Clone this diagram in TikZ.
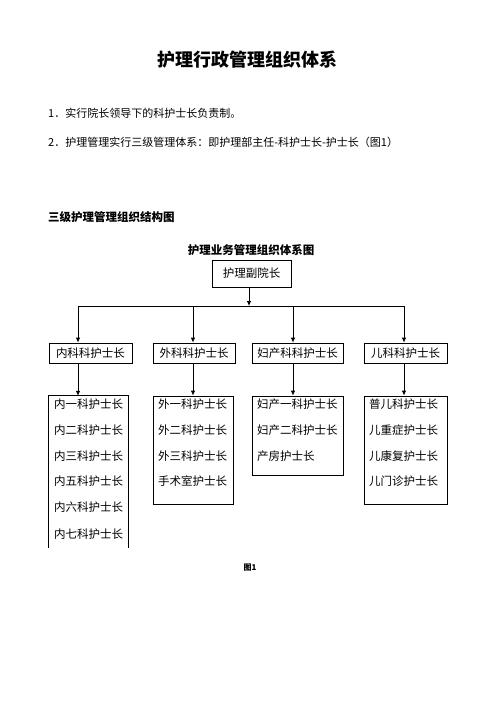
\documentclass[tikz,border=0pt]{standalone}
\usepackage{fontspec}
\setmainfont{Noto Sans CJK SC}
\usetikzlibrary{arrows.meta}
\begin{document}
\begin{tikzpicture}[x=1pt,y=-1pt,
  txt/.style={inner sep=0pt, font=\fontsize{11}{13}\selectfont},
  boxtxt/.style={inner sep=0pt, font=\fontsize{11.5}{13}\selectfont, anchor=west},
  box/.style={draw, line width=0.8pt, inner sep=0pt, font=\fontsize{11.5}{13}\selectfont},
  ln/.style={line width=0.8pt},
  conn/.style={line width=0.8pt, -{Latex[length=5pt,width=4.5pt]}}]
\useasboundingbox[fill=white] (0,0) rectangle (496,702);
% texts
\node[inner sep=0pt, font=\fontsize{18}{20}\selectfont\bfseries] (title) at (247,60) {护理行政管理组织体系};
\node[txt, anchor=west] (l1) at (48,113) {1．实行院长领导下的科护士长负责制。};
\node[txt, anchor=west] (l2) at (48,142) {2．护理管理实行三级管理体系：即护理部主任-科护士长-护士长（图1）};
\node[inner sep=0pt, anchor=west, font=\fontsize{11.5}{13}\selectfont\bfseries] (h1) at (48,217) {三级护理管理组织结构图};
\node[inner sep=0pt, font=\fontsize{11.5}{13}\selectfont\bfseries] (h2) at (251,250) {护理业务管理组织体系图};
\node[inner sep=0pt, font=\fontsize{8}{10}\selectfont\bfseries] (fig) at (250,568) {图1};
% top box
\node[box, minimum width=79pt, minimum height=27pt] (top) at (251.5,273.5) {护理副院长};
% bus
\coordinate (bA) at (78,306);
\coordinate (bB) at (193,306);
\coordinate (bC) at (293,306);
\coordinate (bD) at (404,306);
\coordinate (bT) at (249,306);
\draw[ln] (bA) -- (bD);
\draw[conn] (bT |- top.south) -- (bT);
% level 2
\node[box, minimum width=83pt, minimum height=20pt] (nA) at (90.5,353) {内科科护士长};
\node[box, minimum width=82pt, minimum height=20pt] (nB) at (194,353) {外科科护士长};
\node[box, minimum width=91pt, minimum height=20pt] (nC) at (297.5,353) {妇产科科护士长};
\node[box, minimum width=83pt, minimum height=20pt] (nD) at (405.5,353) {儿科科护士长};
% level 3
\node[inner sep=0pt, minimum width=79pt, minimum height=152pt] (sA) at (88.5,472) {};
\draw[ln] (sA.south west) -- (sA.north west) -- (sA.north east) -- (sA.south east);
\node[box, minimum width=80pt, minimum height=108pt] (sB) at (193,450) {};
\node[box, minimum width=91pt, minimum height=79pt] (sC) at (297.5,435.5) {};
\node[box, minimum width=83pt, minimum height=108pt] (sD) at (405.5,450) {};
% arrows
\foreach \c/\n/\s in {bA/nA/sA, bB/nB/sB, bC/nC/sC, bD/nD/sD}{
  \draw[conn] (\c) -- (\c |- \n.north);
  \draw[conn] (\c |- \n.south) -- (\c |- \s.north);
}
% level-3 texts
\node[boxtxt] (a1) at (54,404) {内一科护士长};
\node[boxtxt] (a2) at (54,430) {内二科护士长};
\node[boxtxt] (a3) at (54,456) {内三科护士长};
\node[boxtxt] (a4) at (54,481) {内五科护士长};
\node[boxtxt] (a5) at (54,507) {内六科护士长};
\node[boxtxt] (a6) at (54,534) {内七科护士长};
\node[boxtxt] (b1) at (158,404) {外一科护士长};
\node[boxtxt] (b2) at (158,430) {外二科护士长};
\node[boxtxt] (b3) at (158,456) {外三科护士长};
\node[boxtxt] (b4) at (158,481) {手术室护士长};
\node[boxtxt] (c1) at (257,404) {妇产一科护士长};
\node[boxtxt] (c2) at (257,430) {妇产二科护士长};
\node[boxtxt] (c3) at (257,456) {产房护士长};
\node[boxtxt] (d1) at (369,404) {普儿科护士长};
\node[boxtxt] (d2) at (369,430) {儿重症护士长};
\node[boxtxt] (d3) at (369,456) {儿康复护士长};
\node[boxtxt] (d4) at (369,481) {儿门诊护士长};
\end{tikzpicture}
\end{document}
